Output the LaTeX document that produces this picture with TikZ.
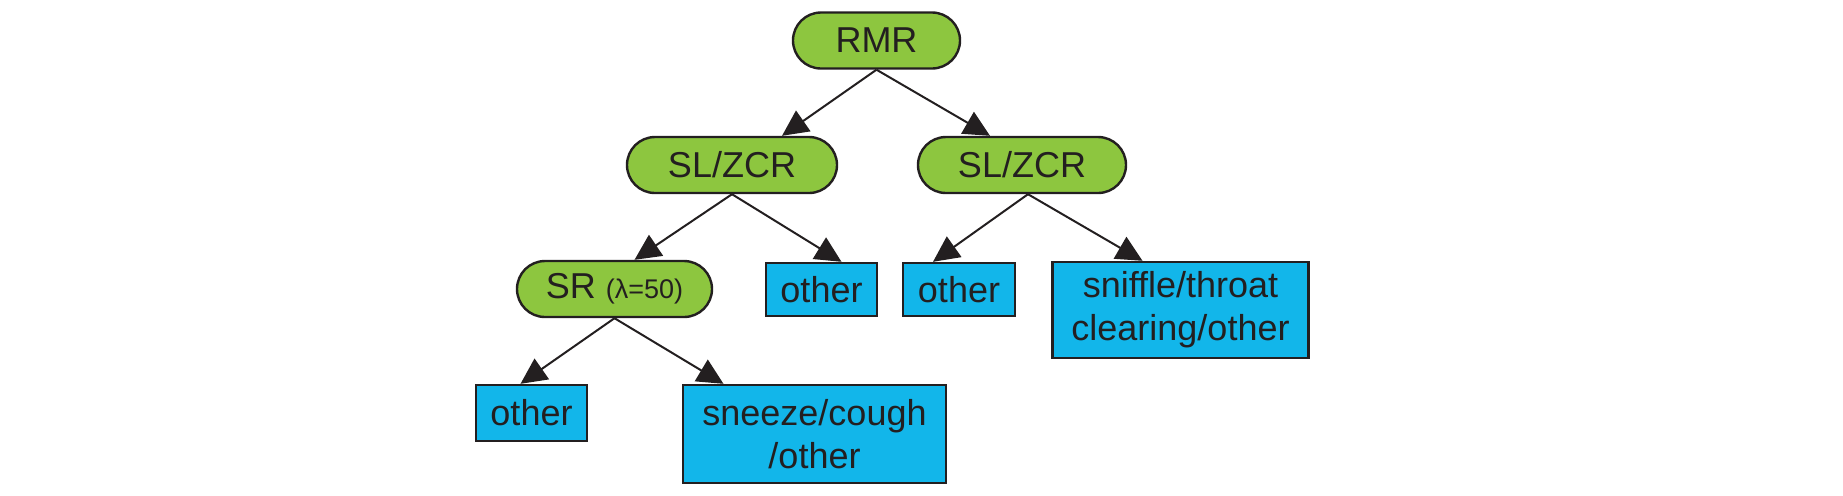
\documentclass[tikz,border=0pt]{standalone}
\usepackage{fontspec}
\setmainfont{Liberation Sans}
\usetikzlibrary{arrows.meta,positioning,shapes.misc}

\definecolor{inkgray}{RGB}{35,31,32}
\definecolor{testgreen}{RGB}{141,198,63}
\definecolor{leafblue}{RGB}{18,182,234}

\begin{document}
\begin{tikzpicture}[x=0.5pt, y=-0.5pt,
    test/.style={rounded rectangle, draw=inkgray, line width=1.2pt, fill=testgreen,
        text=inkgray, font=\fontsize{18}{21.5}\selectfont, minimum height=28pt, inner sep=0pt},
    leaf/.style={rectangle, draw=inkgray, line width=1.2pt, fill=leafblue,
        text=inkgray, font=\fontsize{18}{21.5}\selectfont, align=center, inner sep=0pt},
    arr/.style={-{Triangle[length=13pt,width=12.5pt]}, line width=1pt, draw=inkgray}]
    \useasboundingbox (0,0) rectangle (1843,495);

    \node[test, minimum width=83.5pt] (rmr) at (876.5, 40.5) {RMR};
    \node[test, minimum width=105pt] (slzl) at (732, 165) {SL/ZCR};
    \node[test, minimum width=104pt] (slzr) at (1022, 165) {SL/ZCR};
    \node[test, minimum width=97.5pt] (sr) at (614.5, 289) {SR {\fontsize{13.5}{13.5}\selectfont(λ=50)}};

    \node[leaf, minimum width=55.5pt, minimum height=26.5pt] (othA) at (821.5, 289.5) {other};
    \node[leaf, minimum width=56pt, minimum height=26.5pt] (othB) at (959, 289.5) {other};
    \node[leaf, minimum width=128pt, minimum height=48pt] (sniff) at (1180.5, 310) {sniffle/throat\\clearing/other};
    \node[leaf, minimum width=55.5pt, minimum height=28pt] (othC) at (531.5, 413) {other};
    \node[leaf, minimum width=131.5pt, minimum height=49pt] (sneeze) at (814.5, 434) {sneeze/cough\\/other};

    \draw[arr] (rmr.south) -- ([xshift=25pt]slzl.north);
    \draw[arr] (rmr.south) -- ([xshift=-16pt]slzr.north);
    \draw[arr] (slzl.south) -- ([xshift=10pt]sr.north);
    \draw[arr] (slzl.south) -- ([xshift=10pt]othA.north);
    \draw[arr] ([xshift=3pt]slzr.south) -- ([xshift=-13pt]othB.north);
    \draw[arr] ([xshift=3pt]slzr.south) -- ([xshift=-19pt]sniff.north);
    \draw[arr] (sr.south) -- ([xshift=-5.5pt]othC.north);
    \draw[arr] (sr.south) -- ([xshift=-45.5pt]sneeze.north);
\end{tikzpicture}
\end{document}
